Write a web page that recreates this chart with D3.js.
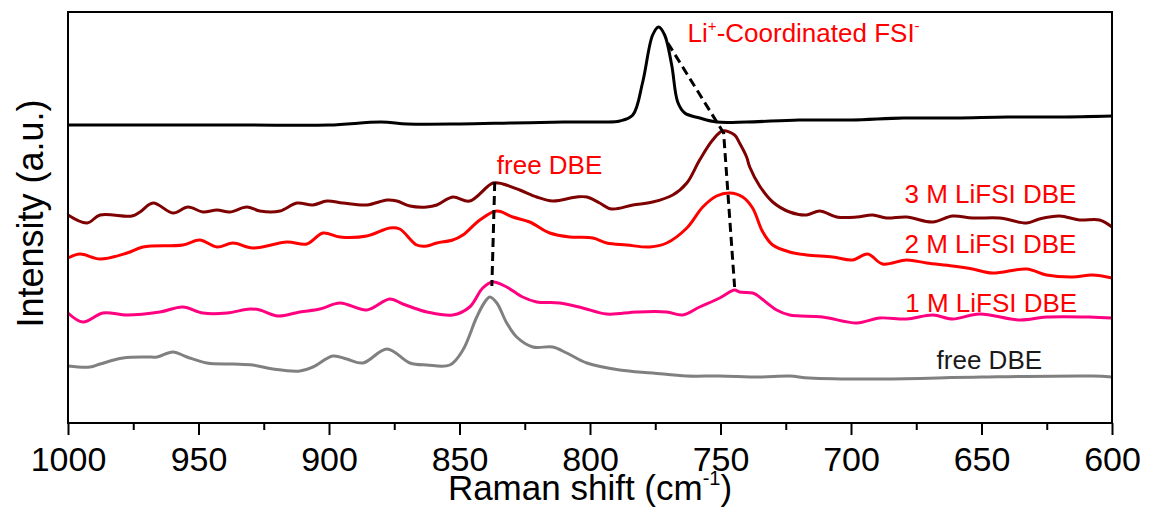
<!DOCTYPE html>
<html>
<head>
<meta charset="utf-8">
<script src="https://cdn.jsdelivr.net/npm/d3@7"></script>
<style>
  html, body { margin: 0; padding: 0; background: #fff; }
  svg { display: block; font-family: "Liberation Sans", Arial, Helvetica, sans-serif; }
</style>
</head>
<body>
<svg id="chart" width="1150" height="518"></svg>
<script>
// ---------- data (Raman shift in cm^-1, intensity in a.u. with vertical offsets) ----------
const majorTicks = [1000, 950, 900, 850, 800, 750, 700, 650, 600];
const minorTicks = [975, 925, 875, 825, 775, 725, 675, 625];

const lifsiSalt = [[1000,298],[990,298],[970,298],[950,298],[930,298],[900,298],[880,301],[870,299],[850,299],[830,300],[810,301],[795,301],[788.6,302],[783.6,308],[779.8,341],[776,388],[773.7,396],[771.4,388],[768.7,358],[766.4,321],[763.7,310],[758,305],[751.5,301],[740,301],[720,303],[700,303],[680,305],[660,305],[640,306],[620,306],[600,307]];

const m3 = [[1000,208],[992.7,200],[987.7,208],[975.5,207],[972.4,211],[967.4,220],[959.8,210],[954.0,216],[948.3,211],[942.9,213],[938.0,211],[931.5,216],[926.5,212],[918.8,212],[912.3,220],[906.2,218],[900.8,222],[894.7,220],[885.5,218],[877.8,223],[874.0,222],[869.0,217],[862.5,216],[858.7,218],[852.6,226],[846.1,222],[837.2,240],[833.4,239],[826.9,233],[820.4,226],[814.3,222],[805.1,226],[801.2,226],[796.3,220],[791.7,214],[783.6,218],[776.0,221],[768.3,228],[762.9,240],[758.0,263],[753.0,283],[749.2,292],[744.6,288],[742.7,280],[740.0,266],[738.8,256],[735.0,237],[730.0,221],[723.5,211],[717.0,208],[712.0,212],[705.5,206],[697.8,206],[691.7,208],[686.4,205],[678.7,206],[668.7,201],[661.1,207],[653.4,205],[643.1,205],[632.7,200],[627.8,204],[620.1,207],[612.5,203],[604.8,203],[600,196]];

const m2 = [[1000,165],[995.4,169],[987.7,164],[977.4,170],[971.3,176],[956.0,178],[949.5,183],[942.9,176],[936.8,180],[929.2,175],[916.1,181],[908.5,179],[902.3,190],[895.8,186],[885.5,187],[876.7,195],[872.9,194],[866.4,178],[862.5,177],[858.7,180],[852.6,183],[848.7,188],[842.2,203],[835.7,212],[829.6,206],[823.1,201],[815.4,190],[807.8,186],[798.9,185],[793.6,180],[785.9,178],[777.1,176],[770.6,180],[762.9,195],[756.8,216],[751.5,227],[746.5,230],[741.5,226],[737.7,215],[733.8,191],[730.0,178],[723.5,171],[717.0,168],[707.0,166],[699.4,163],[693.6,169],[687.9,159],[678.7,163],[671.0,160],[661.1,157],[653.4,154],[645.8,150],[632.7,154],[625.1,148],[615.1,146],[607.5,148],[600,145]];

const m1 = [[1000,110],[994.3,101],[986.6,110],[977.4,108],[964.8,111],[956.0,116],[948.3,110],[939.1,110],[930.3,114],[926.5,113],[919.6,107],[911.2,111],[903.5,114],[895.8,120],[885.5,113],[876.7,124],[871.7,119],[865.2,113],[862.5,111],[852.6,108],[846.1,116],[841.1,135],[837.2,141],[831.9,136],[825.8,126],[820.4,121],[811.6,120],[802.8,115],[793.6,109],[782.1,111],[770.6,111],[764.5,108],[758.0,116],[750.3,125],[744.6,133],[742.7,131],[737.7,130],[736.1,128],[728.5,113],[723.5,108],[710.9,106],[697.8,100],[689.0,105],[678.7,104],[668.7,108],[661.1,104],[650.8,109],[635.4,103],[625.1,106],[608.6,106],[600,105]];

const freeDBE = [[1000,57],[991.6,56],[987.7,59],[978.9,65],[969.7,66],[965.9,66],[959.8,71],[954.4,66],[946.8,60],[936.8,59],[929.2,58],[921.5,54],[911.2,52],[906.2,56],[898.5,67],[893.2,64],[887.0,60],[877.8,74],[869.0,60],[862.5,58],[853.7,58],[848.7,73],[843.4,106],[840.3,121],[838.4,126],[835.7,120],[831.9,100],[828.1,86],[821.9,76],[814.3,76],[808.9,70],[801.2,60],[788.6,53],[776.0,50],[762.9,47],[750.3,47],[735,46],[723.5,47],[716,45],[688,44],[650,46],[607.5,47],[600,46]];

const guideFSI = [[770.2,380],[748.8,290],[744.6,136]];
const guideDBE = [[836.5,241],[837.6,137]];

const seriesNames = ["LiFSI", "3 M LiFSI DBE", "2 M LiFSI DBE", "1 M LiFSI DBE", "free DBE"];
const seriesData = [lifsiSalt, m3, m2, m1, freeDBE];
const seriesColors = ["#000000", "#7f0000", "#ff0000", "#ff0080", "#808080"];

// annotation texts with their anchor (Raman shift, intensity)
const annotations = [
  {text: "3 M LiFSI DBE", at: [679.5, 220], color: "#ff0000"},
  {text: "2 M LiFSI DBE", at: [679.5, 170], color: "#ff0000"},
  {text: "1 M LiFSI DBE", at: [679.2, 111], color: "#ff0000"},
  {text: "free DBE", at: [667.2, 54], color: "#1a1a1a"},
  {text: "free DBE", at: [835.7, 249], color: "#ff0000"}
];

// ---------- layout ----------
const svg = d3.select("#chart");
const L = 68, R = 1112, T = 12, B = 423;

const x = d3.scaleLinear().domain([1000, 600]).range([L, R]);
const y = d3.scaleLinear().domain([0, B - T]).range([B, T]);

const line = d3.line()
  .x(d => x(d[0]))
  .y(d => y(d[1]))
  .curve(d3.curveCatmullRom.alpha(0.5));

const plot = svg.append("g");

// spectra
plot.selectAll("path.spec")
  .data(seriesData)
  .join("path")
  .attr("class", "spec")
  .attr("d", d => line(d))
  .attr("fill", "none")
  .attr("stroke", (d, i) => seriesColors[i])
  .attr("stroke-width", 3)
  .attr("stroke-linejoin", "round");

// dashed guide lines
const straight = d3.line().x(d => x(d[0])).y(d => y(d[1]));
plot.selectAll("path.guide")
  .data([guideFSI, guideDBE])
  .join("path")
  .attr("class", "guide")
  .attr("d", d => straight(d))
  .attr("fill", "none")
  .attr("stroke", "#000")
  .attr("stroke-width", 3)
  .attr("stroke-dasharray", "9,5");

// frame
svg.append("rect")
  .attr("x", L).attr("y", T)
  .attr("width", R - L).attr("height", B - T)
  .attr("fill", "none").attr("stroke", "#000").attr("stroke-width", 2);

// bottom axis
const ax = svg.append("g")
  .attr("transform", `translate(0,${B})`)
  .call(d3.axisBottom(x).tickValues(majorTicks).tickSize(12).tickPadding(12).tickFormat(d3.format("d")));
ax.select(".domain").remove();
ax.selectAll(".tick line").attr("stroke", "#000").attr("stroke-width", 2);
ax.selectAll(".tick text")
  .attr("font-size", 34).attr("fill", "#000")
  .attr("font-family", "'Liberation Sans', Arial, sans-serif");

const axMinor = svg.append("g")
  .attr("transform", `translate(0,${B})`)
  .call(d3.axisBottom(x).tickValues(minorTicks).tickSize(7).tickFormat(""));
axMinor.select(".domain").remove();
axMinor.selectAll(".tick line").attr("stroke", "#000").attr("stroke-width", 2);

// axis titles
const xt = svg.append("text")
  .attr("x", (L + R) / 2).attr("y", 500)
  .attr("text-anchor", "middle")
  .attr("font-size", 35).attr("fill", "#000");
xt.append("tspan").text("Raman shift (cm");
xt.append("tspan").text("-1").attr("font-size", 20).attr("dy", -15);
xt.append("tspan").text(")").attr("dy", 15);

svg.append("text")
  .attr("transform", `translate(43,${(T + B) / 2 - 4}) rotate(-90)`)
  .attr("text-anchor", "middle")
  .attr("font-size", 36).attr("fill", "#000")
  .text("Intensity (a.u.)");

// annotations
svg.selectAll("text.ann")
  .data(annotations)
  .join("text")
  .attr("class", "ann")
  .attr("x", d => x(d.at[0]))
  .attr("y", d => y(d.at[1]))
  .attr("font-size", 26)
  .attr("fill", d => d.color)
  .text(d => d.text);

// Li+-Coordinated FSI- label
const li = svg.append("text")
  .attr("x", x(762.6)).attr("y", y(381))
  .attr("font-size", 26).attr("fill", "#ff0000");
li.append("tspan").text("Li");
li.append("tspan").text("+").attr("font-size", 15).attr("dy", -11);
li.append("tspan").text("-Coordinated FSI").attr("dy", 11);
li.append("tspan").text("-").attr("font-size", 15).attr("dy", -11);
</script>
</body>
</html>
